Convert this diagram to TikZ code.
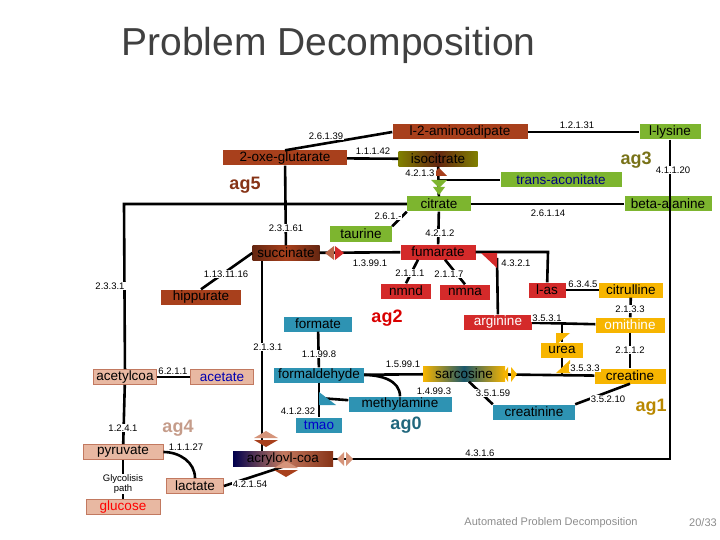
\documentclass[tikz,border=0pt]{standalone}
\usepackage{fontspec}
\setmainfont{Liberation Sans}
\usetikzlibrary{arrows.meta, positioning, calc}

\definecolor{brn}{HTML}{A8401C}
\definecolor{grn}{HTML}{7DB52F}
\definecolor{rd}{HTML}{D42A2A}
\definecolor{org}{HTML}{F7B500}
\definecolor{tl}{HTML}{2E93B3}
\definecolor{pnk}{HTML}{E8B8A2}

\begin{document}
\begin{tikzpicture}[
  x=1pt, y=-1pt,
  font=\fontsize{13.5}{14}\selectfont,
  mol/.style = {minimum height=15pt, inner sep=0.5pt, anchor=center},
  brownbox/.style = {mol, fill=brn},
  greenbox/.style = {mol, fill=grn},
  redbox/.style = {mol, fill=rd},
  orangebox/.style = {mol, fill=org},
  tealbox/.style = {mol, fill=tl},
  pinkbox/.style = {mol, fill=pnk, draw=brn!70, line width=0.8pt},
  ec/.style = {font=\fontsize{9.5}{10}\selectfont, inner sep=1pt, fill=white},
  grp/.style = {font=\bfseries\fontsize{18}{20}\selectfont},
  link/.style = {line width=2.6pt}
]
\useasboundingbox (0,0) rectangle (720,540);

% Title and footer
\node[font=\fontsize{39}{42}\selectfont, text=black!75, anchor=west] (title) at (118,45) {Problem Decomposition};
\node[font=\fontsize{11}{12}\selectfont, text=black!45] (foot) at (551,523) {Automated Problem Decomposition};
\node[font=\fontsize{11}{12}\selectfont, text=black!45] (page) at (703,523) {20/33};

% Molecules
\node[brownbox, minimum width=135pt] (aminoad) at (460,132) {l-2-aminoadipate};
\node[brownbox, minimum width=124pt] (oxeglu) at (285,158) {2-oxe-glutarate};
\node[mol, minimum width=79pt, left color=olive, right color=olive, middle color=brn!60!black] (isocit) at (438,159) {isocitrate};
\node[greenbox, minimum width=61pt] (lysine) at (670,132) {l-lysine};
\node[greenbox, minimum width=121pt, text=blue!50!black] (transac) at (561,180) {trans-aconitate};
\node[greenbox, minimum width=64pt] (citrate) at (439,204) {citrate};
\node[greenbox, minimum width=87pt] (betaal) at (668,204) {beta-alanine};
\node[greenbox, minimum width=62pt] (taurine) at (361,234) {taurine};
\node[mol, minimum width=67pt, left color=brn!60!black, right color=brn!60!black, middle color=brn] (succ) at (286,253) {succinate};
\node[redbox, minimum width=75pt] (fumar) at (438,252) {fumarate};
\node[redbox, minimum width=50pt] (nmnd) at (406,291) {nmnd};
\node[redbox, minimum width=50pt] (nmna) at (465,292) {nmna};
\node[redbox, minimum width=37pt] (las) at (547,290) {l-as};
\node[orangebox, minimum width=64pt] (citrul) at (631,290) {citrulline};
\node[brownbox, minimum width=80pt] (hippur) at (201,297) {hippurate};
\node[tealbox, minimum width=68pt] (formate) at (318,324) {formate};
\node[redbox, minimum width=68pt, text=white] (argin) at (498,322) {arginine};
\node[orangebox, minimum width=69pt, text=white] (ornith) at (630,325) {omithine};
\node[orangebox, minimum width=42pt] (urea) at (562,350) {urea};
\node[tealbox, minimum width=90pt] (formald) at (319,375) {formaldehyde};
\node[mol, minimum width=82pt, left color=org, right color=org, middle color=tl!60!black] (sarcos) at (464,374) {sarcosine};
\node[orangebox, minimum width=71pt] (creatine) at (630,376) {creatine};
\node[tealbox, minimum width=103pt] (methyl) at (400,404) {methylamine};
\node[tealbox, minimum width=82pt] (creatinine) at (534,412) {creatinine};
\node[pinkbox, minimum width=63pt] (acetyl) at (125,377) {acetylcoa};
\node[pinkbox, minimum width=63pt, text=blue!70!black] (acetate) at (222,377) {acetate};
\node[tealbox, minimum width=46pt, text=blue!80!black] (tmao) at (319,425) {tmao};
\node[pinkbox, minimum width=80pt] (pyruv) at (123,452) {pyruvate};
\node[mol, minimum width=100pt, left color=blue!30!black, right color=brn!80!black, middle color=brn!70] (acryl) at (283,459) {acryloyl-coa};
\node[pinkbox, minimum width=57pt] (lactate) at (195,486) {lactate};
\node[pinkbox, minimum width=74pt, text=red] (glucose) at (123,507) {glucose};

% Groups
\node[grp, text=brn!80!black] (ag5) at (245,185) {ag5};
\node[grp, text=olive!80!black] (ag3) at (636,160) {ag3};
\node[grp, text=red!85!black] (ag2) at (387,318) {ag2};
\node[grp, text=pnk!85!black] (ag4) at (178,428) {ag4};
\node[grp, text=tl!70!black] (ag0) at (406,425) {ag0};
\node[grp, text=org!75!black] (ag1) at (651,407) {ag1};

% Junction points
\coordinate (cl) at (124,204);
\coordinate (fr) at (548,252);
\coordinate (lr) at (670,459);
\coordinate (argj) at (497,258);
\coordinate (ureaj) at (562,324);
\coordinate (urdj) at (562,375);
\coordinate (tmj) at (319,398);
\coordinate (succj) at (262,261);
\coordinate (acrj) at (262,451);

% Links
\draw[link] (oxeglu.north) -- (aminoad.west);
\draw[link] (oxeglu) -- (isocit);
\draw[link] (aminoad) -- (lysine);
\draw[link] (lysine) -- (lr) -- (acryl);
\draw[link] (betaal) -- (citrate);
\draw[link] (citrate) -- (cl) -- (acetyl);
\draw[link] (isocit) -- (citrate);
\draw[link] (citrate) -- (fumar);
\draw[link] (439,180) -- (transac);
\draw[link] (citrate.south west) -- (taurine.north east);
\draw[link] (oxeglu) -- (succ);
\draw[link] (succ) -- (fumar);
\draw[link] (succ.west) -- (hippur.north);
\draw[link] (succj) -- (acrj);
\draw[link] (fumar.south) ++(-20,0) -- (nmnd.north);
\draw[link] (fumar.south) ++(7,0) -- (nmna.north);
\draw[link] (fumar) -- (fr) -- (las);
\draw[link] (argj) -- (argin);
\draw[link] (las) -- (citrul);
\draw[link] (citrul) -- (ornith);
\draw[link] (argin) -- (ornith);
\draw[link] (ureaj) -- (urea);
\draw[link] (urea) -- (urdj);
\draw[link] (ornith) -- (creatine);
\draw[link] (sarcos) -- (creatine);
\draw[link] (creatine.south) -- (creatinine.north east);
\draw[link] (sarcos.south) ++(5,0) -- (creatinine.north west);
\draw[link] (formald) -- (sarcos);
\draw[link] (formald.east) to[out=0, in=90] (methyl.north);
\draw[link] (formate) -- (formald);
\draw[link] (formald) -- (tmao);
\draw[link] (tmj) -- (methyl);
\draw[link] (acetyl) -- (acetate);
\draw[link] (acetyl) -- (pyruv);
\draw[link] (pyruv) -- (glucose);
\draw[link] (pyruv.east) to[out=0, in=90] (lactate.north);
\draw[link] (lactate.east) -- (acryl.south);

% Reaction markers
\fill[brn] (431,176) -- (447,176) -- (439,168) -- cycle;
\fill[grn] (431,180) -- (447,180) -- (439,188) -- cycle;
\fill[grn] (433,187) -- (445,187) -- (439,195) -- cycle;
\fill[brn!80] (334,246) -- (334,260) -- (325,253) -- cycle;
\fill[rd] (335,246) -- (335,260) -- (344,253) -- cycle;
\fill[rd] (481,253) -- (497,253) -- (497,268) -- cycle;
\fill[org] (556,333) -- (570,333) -- (556,345) -- cycle;
\fill[org] (570,360) -- (570,373) -- (556,373) -- cycle;
\fill[org] (508,367) -- (508,382) -- (503,374) -- cycle;
\fill[org] (511,367) -- (511,382) -- (517,374) -- cycle;
\fill[tl] (319,392) -- (319,405) -- (336,405) -- cycle;
\fill[pnk!70!brn] (254,438) -- (278,438) -- (266,431) -- cycle;
\fill[brn] (254,440) -- (278,440) -- (266,447) -- cycle;
\fill[pnk!70!brn] (274,468) -- (298,468) -- (286,461) -- cycle;
\fill[brn] (274,470) -- (298,470) -- (286,477) -- cycle;
\fill[pnk!70!brn] (344,452) -- (344,466) -- (337,459) -- cycle;
\fill[pnk!70!brn] (346,452) -- (346,466) -- (353,459) -- cycle;

% EC numbers
\node[ec] (e1) at (326,136) {2.6.1.39};
\node[ec] (e2) at (373,151) {1.1.1.42};
\node[ec] (e3) at (577,125) {1.2.1.31};
\node[ec] (e4) at (673,170) {4.1.1.20};
\node[ec] (e5) at (420,173) {4.2.1.3};
\node[ec] (e6) at (548,213) {2.6.1.14};
\node[ec] (e7) at (388,216) {2.6.1.-};
\node[ec] (e8) at (440,233) {4.2.1.2};
\node[ec] (e9) at (286,228) {2.3.1.61};
\node[ec] (e10) at (370,263) {1.3.99.1};
\node[ec] (e11) at (226,274) {1.13.11.16};
\node[ec] (e12) at (110,286) {2.3.3.1};
\node[ec] (e13) at (410,273) {2.1.1.1};
\node[ec] (e14) at (449,274) {2.1.1.7};
\node[ec] (e15) at (516,263) {4.3.2.1};
\node[ec] (e16) at (583,284) {6.3.4.5};
\node[ec] (e17) at (630,309) {2.1.3.3};
\node[ec] (e18) at (547,318) {3.5.3.1};
\node[ec] (e19) at (630,350) {2.1.1.2};
\node[ec] (e20) at (585,368) {3.5.3.3};
\node[ec] (e21) at (608,399) {3.5.2.10};
\node[ec] (e22) at (493,393) {3.5.1.59};
\node[ec] (e23) at (403,364) {1.5.99.1};
\node[ec] (e24) at (434,391) {1.4.99.3};
\node[ec] (e25) at (319,354) {1.1.99.8};
\node[ec] (e26) at (298,411) {4.1.2.32};
\node[ec] (e27) at (268,347) {2.1.3.1};
\node[ec] (e28) at (173,371) {6.2.1.1};
\node[ec] (e29) at (123,428) {1.2.4.1};
\node[ec, align=center] (e30) at (123,484) {Glycolisis\\path};
\node[ec] (e31) at (186,447) {1.1.1.27};
\node[ec] (e32) at (250,484) {4.2.1.54};
\node[ec] (e33) at (480,453) {4.3.1.6};
\end{tikzpicture}
\end{document}
